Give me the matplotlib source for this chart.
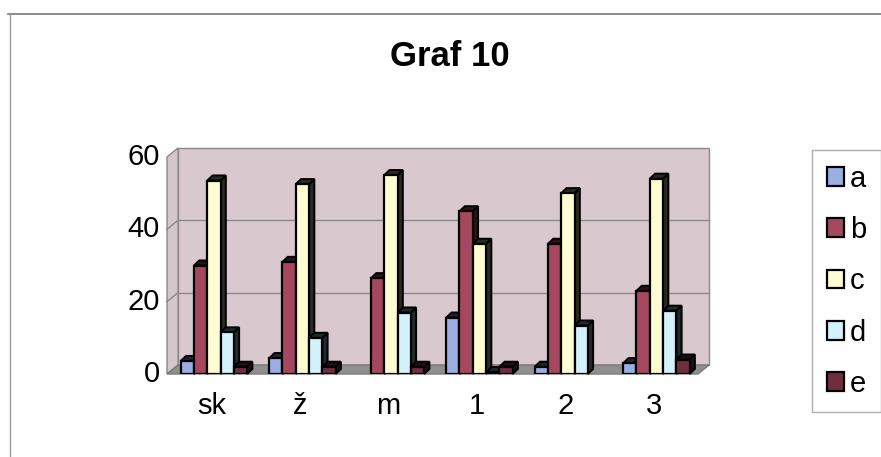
import matplotlib
matplotlib.use("Agg")
import matplotlib.pyplot as plt
from matplotlib.patches import Polygon, Patch
from matplotlib.lines import Line2D
import numpy as np

plt.rcParams['font.family'] = ['Liberation Sans', 'DejaVu Sans']

categories = ["sk", "ž", "m", "1", "2", "3"]
series_names = ["a", "b", "c", "d", "e"]
a = [3.6, 4.4, 0.0, 15.6, 2.0, 3.0]
b = [30.0, 31.0, 26.5, 45.0, 36.0, 23.0]
c = [53.5, 52.5, 55.0, 36.0, 50.0, 54.0]
d = [11.5, 10.0, 17.0, 0.5, 13.4, 17.5]
e = [2.0, 2.0, 2.0, 2.0, 0.0, 4.0]
series = [a, b, c, d, e]
yticks = [0, 20, 40, 60]

front_cols = ["#9aaee0", "#a5485f", "#fffcd2", "#d3f1fb", "#6f2d40"]
side_cols = ["#1e2233", "#2e1219", "#2a2a1e", "#1e2a2e", "#220e14"]

W, H = 881, 457
fig = plt.figure(figsize=(W / 100, H / 100), dpi=100)
fig.patch.set_facecolor("white")

ax = fig.add_axes([167 / W, (H - 374) / H, 531 / W, 217 / H])
ax.set_xlim(-0.5, 5.5)
ax.set_ylim(0, 60)
ax.axis("off")

dxw, dyw = 0.125, 2.5
x0, x1 = -0.5, 5.5
wall_col = "#d9c8ce"
ax.add_patch(Polygon([(x0 + dxw, dyw), (x1 + dxw, dyw), (x1 + dxw, 60 + dyw), (x0 + dxw, 60 + dyw)],
                     closed=True, facecolor=wall_col, edgecolor="#8a8a8a", lw=1.0, clip_on=False, zorder=0))
ax.add_patch(Polygon([(x0, 0), (x0 + dxw, dyw), (x0 + dxw, 60 + dyw), (x0, 60)],
                     closed=True, facecolor="#d3c7cb", edgecolor="#8a8a8a", lw=1.0, clip_on=False, zorder=0))
ax.add_patch(Polygon([(x0, 0), (x1, 0), (x1 + dxw, dyw), (x0 + dxw, dyw)],
                     closed=True, facecolor="#8f8f8f", edgecolor="#7a7a7a", lw=1.0, clip_on=False, zorder=0))
for v in yticks[1:-1]:
    ax.plot([x0 + dxw, x1 + dxw], [v + dyw, v + dyw], color="#8a8a8a", lw=1.0, zorder=0.5, clip_on=False)
    ax.plot([x0, x0 + dxw], [v, v + dyw], color="#8a8a8a", lw=1.0, zorder=0.5, clip_on=False)

bw = 0.15
dxb, dyb = 0.06, 1.4
xs = np.arange(len(categories))
for j, xc in enumerate(xs):
    for i, s in enumerate(series):
        v = s[j]
        left = xc + (i - 2.5) * bw + 0.03
        right = left + bw
        z = 2 + i * 0.1
        if v <= 0:
            continue
        ax.add_patch(Polygon([(right, 0), (right + dxb, dyb), (right + dxb, v + dyb), (right, v)],
                             closed=True, facecolor=side_cols[i], edgecolor="black", lw=1.4, zorder=z, clip_on=False))
        ax.add_patch(Polygon([(left, v), (right, v), (right + dxb, v + dyb), (left + dxb, v + dyb)],
                             closed=True, facecolor=side_cols[i], edgecolor="black", lw=1.4, zorder=z, clip_on=False))
        ax.bar(left, v, width=bw, align="edge", color=front_cols[i], edgecolor="black",
               linewidth=1.6, zorder=z + 0.05)

for v in yticks:
    ax.text(-0.58, v, str(v), ha="right", va="center", fontsize=21, color="black")
for xc, lab in zip(xs, categories):
    ax.text(xc, -5.0, lab, ha="center", va="top", fontsize=21, color="black")

fig.text(450 / W, 1 - 56 / H, "Graf 10", ha="center", va="center", fontsize=25, fontweight="bold")

handles = [Patch(facecolor=front_cols[i], edgecolor="black", linewidth=1.6) for i in range(5)]
leg = fig.legend(handles, series_names, loc="upper left", bbox_to_anchor=(812 / W, 1 - 150 / H),
                 fontsize=21, frameon=True, fancybox=False, handlelength=0.6, handleheight=0.6,
                 handletextpad=0.2, labelspacing=0.8, borderpad=0.5, borderaxespad=0)
leg.get_frame().set_edgecolor("#9a9a9a")
leg.get_frame().set_linewidth(1.0)

fig.add_artist(Line2D([8 / W, 1.0], [1 - 14 / H, 1 - 14 / H], color="#777777", lw=1.2))
fig.add_artist(Line2D([10 / W, 10 / W], [0, 1 - 14 / H], color="#999999", lw=1.0))

fig.savefig("out.png", dpi=100, facecolor="white")
